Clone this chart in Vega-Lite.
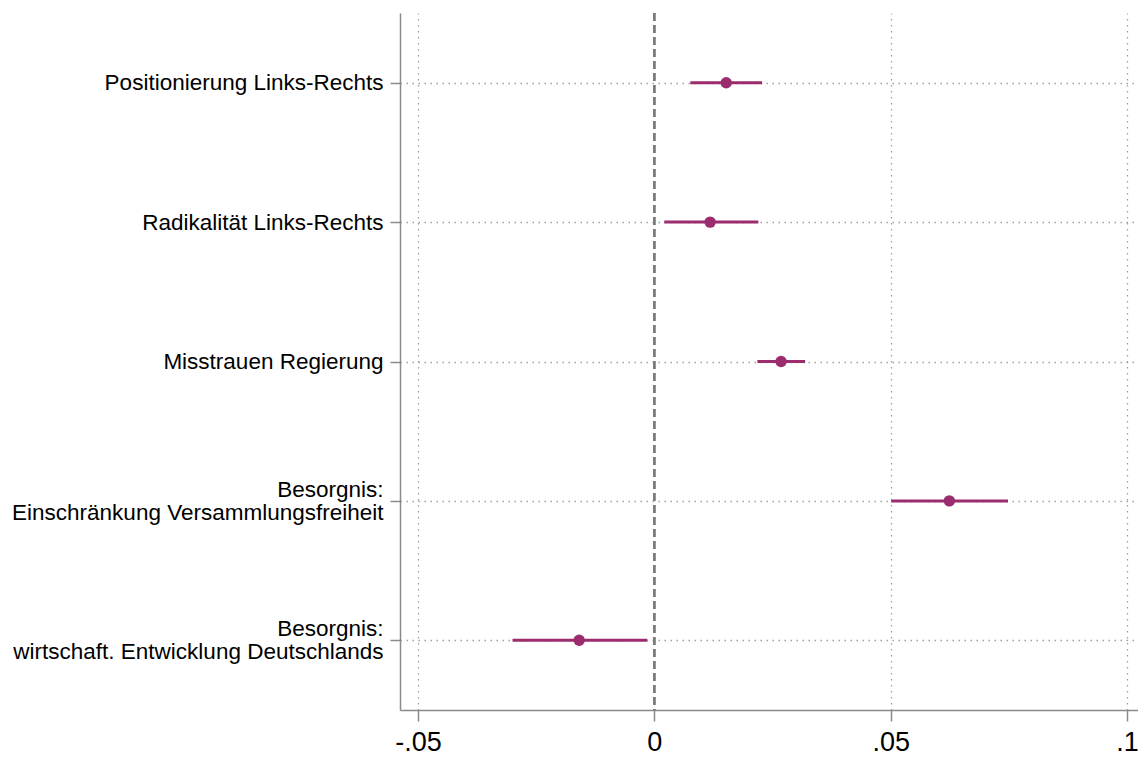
{
  "$schema": "https://vega.github.io/schema/vega-lite/v6.json",
  "width": 738,
  "height": 697,
  "autosize": {"type": "none"},
  "padding": {"left": 400, "top": 13, "right": 0, "bottom": 48},
  "background": "white",
  "config": {
    "view": {"stroke": null},
    "font": "Liberation Sans"
  },
  "data": {
    "values": [
      {"var": "Positionierung Links-Rechts", "est": 0.0152, "lo": 0.0076, "hi": 0.0228},
      {"var": "Radikalität Links-Rechts", "est": 0.0118, "lo": 0.0021, "hi": 0.0220},
      {"var": "Misstrauen Regierung", "est": 0.0268, "lo": 0.0218, "hi": 0.0319},
      {"var": "Besorgnis:|Einschränkung Versammlungsfreiheit", "est": 0.0624, "lo": 0.0501, "hi": 0.0748},
      {"var": "Besorgnis:|wirtschaft. Entwicklung Deutschlands", "est": -0.0159, "lo": -0.0300, "hi": -0.0015}
    ]
  },
  "layer": [
    {
      "mark": {"type": "rule", "color": "#9b2c6e", "strokeWidth": 3},
      "encoding": {
        "y": {
          "field": "var",
          "type": "nominal",
          "sort": null,
          "scale": {"type": "point", "padding": 0.5},
          "axis": {
            "title": null,
            "labelExpr": "split(datum.label, '|')",
            "labelFontSize": 22.5,
            "labelColor": "#000000",
            "labelLineHeight": 23,
            "labelOffset": {"condition": {"test": "indexof(datum.label, '|') >= 0", "value": -11.5}, "value": 0},
            "labelPadding": 7,
            "labelLimit": 400,
            "tickSize": 10,
            "tickColor": "#8a8a8a",
            "tickWidth": 1.5,
            "domainColor": "#8a8a8a",
            "domainWidth": 1.5,
            "grid": true,
            "gridColor": "#a0a0a0",
            "gridDash": [1.5, 4.5],
            "gridWidth": 1.3
          }
        },
        "x": {
          "field": "lo",
          "type": "quantitative",
          "scale": {"domain": [-0.0538, 0.1023], "nice": false, "zero": false},
          "axis": {
            "title": null,
            "values": [-0.05, 0, 0.05, 0.1],
            "labelExpr": "datum.value < -0.01 ? '-.05' : datum.value > 0.075 ? '.1' : datum.value > 0.01 ? '.05' : '0'",
            "labelFontSize": 27,
            "labelColor": "#000000",
            "labelPadding": 8,
            "labelFlush": false,
            "tickSize": 11,
            "tickColor": "#8a8a8a",
            "tickWidth": 1.5,
            "domainColor": "#8a8a8a",
            "domainWidth": 1.5,
            "grid": true,
            "gridColor": "#a0a0a0",
            "gridDash": [1.5, 4.5],
            "gridWidth": 1.3
          }
        },
        "x2": {"field": "hi"}
      }
    },
    {
      "mark": {"type": "rule", "color": "#7a7a7a", "strokeWidth": 1.8, "strokeDash": [8, 4]},
      "encoding": {"x": {"datum": 0, "type": "quantitative"}}
    },
    {
      "mark": {"type": "circle", "color": "#9b2c6e", "opacity": 1, "size": 130},
      "encoding": {
        "x": {"field": "est", "type": "quantitative"},
        "y": {"field": "var", "type": "nominal", "sort": null}
      }
    }
  ]
}
